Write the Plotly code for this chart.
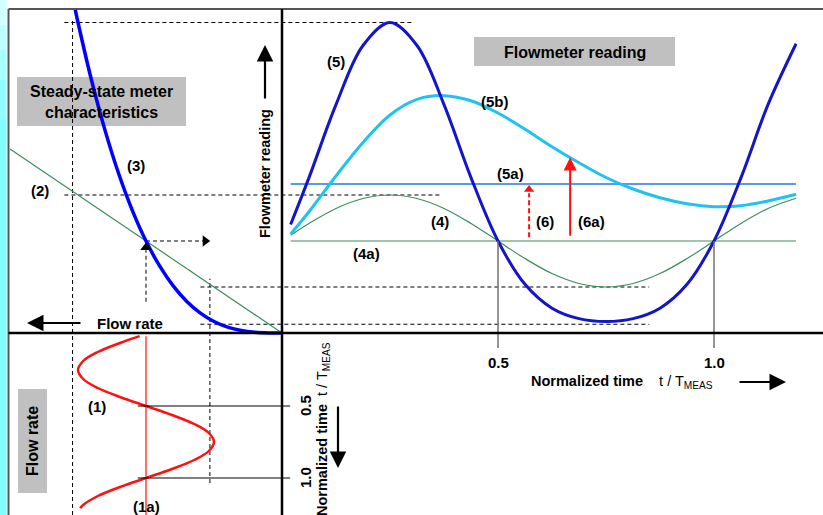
import numpy as np
import plotly.graph_objects as go

# ------------------------------------------------------------------ data
# right panel: flowmeter reading vs normalized time t/T_MEAS
t_right = [0.02, 0.0625, 0.125, 0.1875, 0.25, 0.3125, 0.375, 0.4375, 0.5, 0.5625,
           0.625, 0.6875, 0.75, 0.8125, 0.875, 0.9375, 1.0, 1.0625, 1.125, 1.19]
reading_linear = [1.063, 1.191, 1.354, 1.462, 1.5, 1.462, 1.354, 1.191, 1.0, 0.809,
                  0.646, 0.538, 0.5, 0.538, 0.646, 0.809, 1.0, 1.191, 1.354, 1.465]      # (4)
reading_nonlinear = [1.18, 1.689, 2.482, 3.125, 3.375, 3.125, 2.482, 1.689, 1.0, 0.529,
                     0.270, 0.156, 0.125, 0.156, 0.270, 0.529, 1.0, 1.689, 2.482, 3.144]  # (5)
reading_damped = [1.076, 1.318, 1.707, 2.07, 2.37, 2.54, 2.58, 2.525, 2.391, 2.215,
                  2.025, 1.85, 1.69, 1.565, 1.47, 1.405, 1.373, 1.383, 1.435, 1.508]      # (5b)
mean_linear = 1.0        # (4a)
mean_nonlinear = 1.62    # (5a)

# lower-left panel: flow rate vs normalized time (time runs downward)
t_flow = [0.015, 0.0625, 0.125, 0.1875, 0.25, 0.3125, 0.375, 0.4375, 0.5, 0.5625, 0.625,
          0.6875, 0.75, 0.8125, 0.875, 0.9375, 1.0, 1.0625, 1.125, 1.1875, 1.21]
flow = [1.047, 1.191, 1.354, 1.462, 1.5, 1.462, 1.354, 1.191, 1.0, 0.809, 0.646,
        0.538, 0.5, 0.538, 0.646, 0.809, 1.0, 1.191, 1.354, 1.462, 1.484]              # (1)
mean_flow = 1.0                                                                       # (1a)

# upper-left panel: steady-state meter characteristics (reading vs flow)
char_flow = [0.0, 0.1, 0.2, 0.3, 0.4, 0.5, 0.6, 0.7, 0.8, 0.9, 1.0, 1.1, 1.2, 1.3, 1.4, 1.5, 1.52]
char_cubic = [0.0, 0.001, 0.008, 0.027, 0.064, 0.125, 0.216, 0.343, 0.512, 0.729, 1.0,
              1.331, 1.728, 2.197, 2.744, 3.375, 3.512]                                # (3)
char_lin_flow = [0.0, 2.0]
char_lin_reading = [0.0, 2.0]                                                         # (2)

# guide (dashed) positions
guide_flow_hi = 1.54
guide_flow_lo = 0.53
tick_vals = [0.5, 1.0]
tick_text = ["0.5", "1.0"]
arrow6_t = 0.572
arrow6a_t = 0.667

# ------------------------------------------------------------------ geometry
W, H = 823, 515
PX_T0, PX_PER_T = 282, 432      # right-panel time axis (pixels)
PY_R0, PX_PER_R = 333, 92       # reading axis (pixels, upward)
PX_Q0, PX_PER_Q = 282, 136      # flow axis (pixels, leftward)
PY_T0, PY_PER_T = 334, 144      # lower-panel time axis (pixels, downward)


def px(x):
    return x / W


def py(y):
    return 1 - y / H


def q_to_t(q):      # flow value -> equivalent right-panel time coordinate
    return (PX_Q0 - PX_PER_Q * q - PX_T0) / PX_PER_T


def t_to_r(t):      # lower-panel time -> equivalent reading coordinate
    return (PY_R0 - (PY_T0 + PY_PER_T * t)) / PX_PER_R


R_BOTTOM = (PY_R0 - H) / PX_PER_R
T_BOTTOM = (H - PY_T0) / PY_PER_T

FONT = "Liberation Sans, Arial, sans-serif"
GREEN = "#3a8f5f"
DKBLUE = "#1414c8"
CYAN = "#1ec3f0"
MIDBLUE = "#2078e6"
RED = "#ff1010"

fig = go.Figure()

# right panel traces
fig.add_trace(go.Scatter(x=[t_right[0], t_right[-1]], y=[mean_linear] * 2, mode="lines",
                         line=dict(color=GREEN, width=1.2), xaxis="x", yaxis="y"))
fig.add_trace(go.Scatter(x=[t_right[0], t_right[-1]], y=[mean_nonlinear] * 2, mode="lines",
                         line=dict(color=MIDBLUE, width=1.5), xaxis="x", yaxis="y"))
fig.add_trace(go.Scatter(x=t_right, y=reading_linear, mode="lines",
                         line=dict(color=GREEN, width=1.2, shape="spline"), xaxis="x", yaxis="y"))
fig.add_trace(go.Scatter(x=t_right, y=reading_damped, mode="lines",
                         line=dict(color=CYAN, width=3, shape="spline"), xaxis="x", yaxis="y"))
fig.add_trace(go.Scatter(x=t_right, y=reading_nonlinear, mode="lines",
                         line=dict(color=DKBLUE, width=3, shape="spline"), xaxis="x", yaxis="y"))

# upper-left traces
fig.add_trace(go.Scatter(x=char_lin_flow, y=char_lin_reading, mode="lines",
                         line=dict(color=GREEN, width=1.2), xaxis="x2", yaxis="y"))
fig.add_trace(go.Scatter(x=char_flow, y=char_cubic, mode="lines",
                         line=dict(color="#0000ff", width=3.5, shape="spline"), xaxis="x2", yaxis="y"))

# lower-left traces
fig.add_trace(go.Scatter(x=[mean_flow, mean_flow], y=[t_flow[0], T_BOTTOM], mode="lines",
                         line=dict(color=RED, width=1.2), xaxis="x2", yaxis="y3"))
fig.add_trace(go.Scatter(x=flow, y=t_flow, mode="lines",
                         line=dict(color=RED, width=2.5, shape="spline"), xaxis="x2", yaxis="y3"))

# arrowhead markers
fig.add_trace(go.Scatter(x=[mean_flow], y=[mean_linear - 0.07], mode="markers",
                         marker=dict(symbol="triangle-up", size=10, color="black"),
                         xaxis="x2", yaxis="y"))
fig.add_trace(go.Scatter(x=[guide_flow_lo + 0.035], y=[mean_linear], mode="markers",
                         marker=dict(symbol="triangle-right", size=10, color="black"),
                         xaxis="x2", yaxis="y"))
fig.add_trace(go.Scatter(x=[arrow6_t], y=[mean_nonlinear - 0.06], mode="markers",
                         marker=dict(symbol="triangle-up", size=9, color=RED),
                         xaxis="x", yaxis="y"))

shapes = []


def seg(x0, y0, x1, y1, xref, yref, color="black", width=1, dash="solid", layer="below"):
    shapes.append(dict(type="line", x0=x0, y0=y0, x1=x1, y1=y1, xref=xref, yref=yref,
                       line=dict(color=color, width=width, dash=dash), layer=layer))


def box(x0, y0, x1, y1, color):
    shapes.append(dict(type="rect", x0=px(x0), x1=px(x1), y0=py(y1), y1=py(y0),
                       xref="paper", yref="paper", fillcolor=color, line=dict(width=0),
                       layer="below"))


# left cyan strip (light at the top)
for (a, b, c) in [(0, 25, "#d2ffff"), (25, 50, "#bcffff"), (50, 80, "#a6ffff"),
                  (80, 120, "#92ffff"), (120, H, "#80ffff")]:
    box(0, a, 6.5, b, c)

# frame
seg(px(8.5), py(9), 1, py(9), "paper", "paper", "#555555", 2)
seg(px(8.5), py(9), px(8.5), 0, "paper", "paper", "#555555", 2)

# grey label boxes
box(17, 77, 186, 126, "#c0c0c0")
box(474, 37, 675, 66, "#c0c0c0")
box(18, 389, 47, 493, "#c0c0c0")

DASH = "4px,3px"
peak5 = max(reading_nonlinear[:10])
peak4 = max(reading_linear)
min4 = min(reading_linear)
min5 = min(reading_nonlinear)

# dashed guide lines
seg(guide_flow_hi, R_BOTTOM, guide_flow_hi, peak5 + 0.02, "x2", "y", dash=DASH)
seg(q_to_t(1.6), peak5, 0.30, peak5, "x", "y", dash=DASH)
seg(q_to_t(1.6), peak4, 0.37, peak4, "x", "y", dash=DASH)
seg(q_to_t(0.6), min4, 0.85, min4, "x", "y", dash=DASH)
seg(q_to_t(0.6), min5 - 0.03, 0.85, min5 - 0.03, "x", "y", dash=DASH)
seg(guide_flow_lo, t_to_r(1.035), guide_flow_lo, min4 + 0.09, "x2", "y", dash=DASH)
seg(mean_flow, 0.34, mean_flow, mean_linear - 0.1, "x2", "y", dash=DASH)
seg(mean_flow, mean_linear, guide_flow_lo + 0.05, mean_linear, "x2", "y", dash=DASH)

# red dashed arrow (6)
seg(arrow6_t, mean_linear + 0.04, arrow6_t, mean_nonlinear - 0.1, "x", "y", RED, 2, "5px,3px", "above")

# time ticks (right panel)
for tv in tick_vals:
    seg(tv, mean_linear, tv, -0.163, "x", "y", "#707070", 1.5, layer="above")
# time ticks (lower panel)
for tv in tick_vals:
    seg(1.06, tv, -0.06, tv, "x2", "y3", "black", 1, layer="above")

# main axes
seg(px(8.5), 0, 1, 0, "paper", "y", "black", 2.5, layer="above")
seg(0, 0, 0, py(9), "x", "paper", "black", 2.5, layer="above")

ann = []
LBL = 15


def label(text, x, y, size=LBL, angle=0, xref="paper", yref="paper", bold=True):
    ann.append(dict(text=f"<b>{text}</b>" if bold else text, x=x, y=y, xref=xref, yref=yref,
                    showarrow=False, textangle=angle, xanchor="center", yanchor="middle",
                    font=dict(family=FONT, size=size, color="black")))


def arrow(x_tip, y_tip, dx, dy, color="black", width=2.2, size=1.5, xref="paper", yref="paper",
          axref=None, ayref=None):
    d = dict(text="", x=x_tip, y=y_tip, xref=xref, yref=yref, ax=dx, ay=dy, showarrow=True,
             arrowhead=2, arrowsize=size, arrowwidth=width, arrowcolor=color)
    if axref:
        d["axref"] = axref
        d["ayref"] = ayref
    ann.append(d)


for text, x, y in [("(5)", 336, 61), ("(5b)", 495, 101), ("(5a)", 510, 173), ("(4)", 440, 221),
                   ("(4a)", 366, 253), ("(6)", 545, 221), ("(6a)", 591, 221), ("(3)", 136, 165),
                   ("(2)", 40, 191), ("(1)", 97, 406), ("(1a)", 146, 506)]:
    label(text, px(x), py(y))

label("Steady-state meter<br>characteristics", px(101), py(102), size=16)
label("Flowmeter reading", px(575), py(52), size=16)
label("Flow rate", px(32), py(441), size=16, angle=-90)
label("Flow rate", px(130), py(323))
label("Flowmeter reading", px(265), py(174), size=14.5, angle=-90)

for tv, tt in zip(tick_vals, tick_text):
    label(tt, tv, py(362), xref="x")
    label(tt, px(305), tv, angle=-90, yref="y3")

TFONT = dict(family=FONT, size=14.5, color="black")
ann.append(dict(text="<b>Normalized time</b>&nbsp;&nbsp;&nbsp;&nbsp;t / T<sub>MEAS</sub>",
                x=px(622), y=py(382), xref="paper", yref="paper", showarrow=False,
                xanchor="center", yanchor="middle", font=TFONT))
ann.append(dict(text="<b>Normalized time</b>&nbsp;&nbsp;t / T<sub>MEAS</sub>",
                x=px(323), y=py(429), xref="paper", yref="paper", showarrow=False, textangle=-90,
                xanchor="center", yanchor="middle", font=TFONT))

# black direction arrows
arrow(px(786), py(382), -48, 0)
arrow(px(338), py(468), 0, -63)
arrow(px(265), py(45), 0, 55)
arrow(px(27), py(323), 55, 0)

# red solid arrow (6a)
tip6a = float(np.interp(arrow6a_t, t_right, reading_damped))
arrow(arrow6a_t, tip6a, arrow6a_t, mean_linear + 0.04, color=RED, width=2, size=1.3,
      xref="x", yref="y", axref="x", ayref="y")

fig.update_layout(
    width=W, height=H, margin=dict(l=0, r=0, t=0, b=0),
    paper_bgcolor="white", plot_bgcolor="white", showlegend=False,
    xaxis=dict(domain=[0, 1], range=[-PX_T0 / PX_PER_T, (W - PX_T0) / PX_PER_T], visible=False,
               fixedrange=True),
    yaxis=dict(domain=[0, 1], range=[R_BOTTOM, PY_R0 / PX_PER_R], visible=False, fixedrange=True),
    xaxis2=dict(domain=[0, 1], overlaying="x", anchor="y",
                range=[PX_Q0 / PX_PER_Q, (PX_Q0 - W) / PX_PER_Q], visible=False, fixedrange=True),
    yaxis3=dict(domain=[0, 1], overlaying="y", anchor="x",
                range=[T_BOTTOM, -PY_T0 / PY_PER_T], visible=False, fixedrange=True),
    shapes=shapes, annotations=ann,
)

fig.write_html("out.html", config={"displayModeBar": False},
               post_script="document.body.style.margin='0';")
